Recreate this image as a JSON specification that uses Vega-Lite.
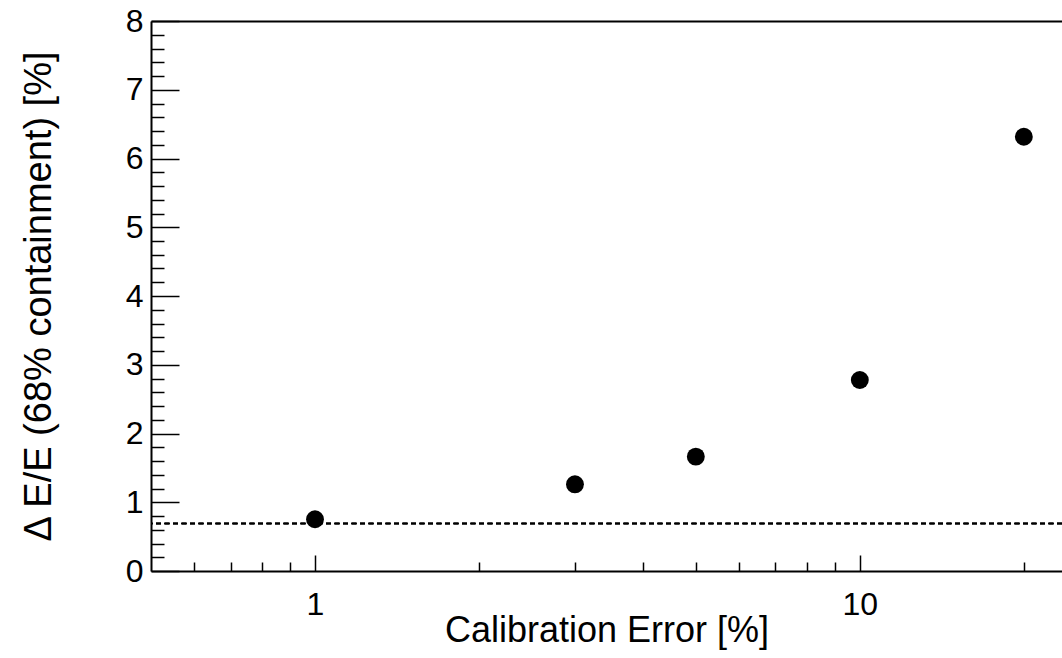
{
  "$schema": "https://vega.github.io/schema/vega-lite/v6.json",
  "width": 911,
  "height": 550,
  "autosize": "none",
  "padding": {"left": 151, "top": 21, "right": 0, "bottom": 87},
  "background": "white",
  "config": {
    "view": {"stroke": null},
    "axis": {
      "grid": false,
      "labelFont": "Liberation Sans",
      "labelFontSize": 32,
      "labelColor": "black",
      "titleFont": "Liberation Sans",
      "titleFontWeight": "normal",
      "titleColor": "black",
      "domainColor": "black",
      "domainWidth": 2,
      "tickColor": "black",
      "tickWidth": 1.5
    }
  },
  "data": {
    "values": [
      {"err": 1, "res": 0.752},
      {"err": 3, "res": 1.261},
      {"err": 5, "res": 1.663},
      {"err": 10, "res": 2.778},
      {"err": 20, "res": 6.317}
    ]
  },
  "resolve": {"axis": {"x": "independent", "y": "independent"}},
  "layer": [
    {
      "mark": {"type": "rule", "color": "black", "strokeWidth": 1.5, "strokeDash": [5, 3.5]},
      "encoding": {
        "y": {"datum": 0.69, "type": "quantitative", "scale": {"domain": [0, 8], "nice": false}, "axis": null}
      }
    },
    {
      "mark": {"type": "circle", "color": "black", "opacity": 1, "size": 320},
      "encoding": {
        "x": {
          "field": "err", "type": "quantitative",
          "scale": {"type": "log", "domain": [0.5, 23.5], "nice": false, "zero": false},
          "axis": {
            "orient": "bottom", "values": [1, 10], "format": "d", "ticks": false,
            "domain": true, "labelPadding": 18, "labelFlush": false,
            "labelFont": "Liberation Sans", "labelFontSize": 32, "labelColor": "black",
            "title": "Calibration Error [%]", "titleFontSize": 36,
            "titleBaseline": "alphabetic", "titleY": 70
          }
        },
        "y": {
          "field": "res", "type": "quantitative",
          "scale": {"domain": [0, 8], "nice": false},
          "axis": {
            "orient": "left", "values": [0, 1, 2, 3, 4, 5, 6, 7, 8], "format": "d", "ticks": false,
            "domain": true, "labelPadding": 8,
            "labelFont": "Liberation Sans", "labelFontSize": 32, "labelColor": "black",
            "title": "Δ E/E (68% containment) [%]", "titleFontSize": 38,
            "titleBaseline": "alphabetic", "titleX": -101, "titleAngle": -90
          }
        }
      }
    },
    {
      "mark": {"type": "circle", "opacity": 0},
      "encoding": {
        "x": {
          "field": "err", "type": "quantitative",
          "scale": {"type": "log", "domain": [0.5, 23.5], "nice": false, "zero": false},
          "axis": {"orient": "bottom", "values": [1, 10], "labels": false, "domain": false, "tickSize": -16, "title": null}
        },
        "y": {
          "field": "res", "type": "quantitative",
          "scale": {"domain": [0, 8], "nice": false},
          "axis": {"orient": "left", "values": [0, 1, 2, 3, 4, 5, 6, 7, 8], "labels": false, "domain": false, "tickSize": -28, "title": null}
        }
      }
    },
    {
      "mark": {"type": "circle", "opacity": 0},
      "encoding": {
        "x": {
          "field": "err", "type": "quantitative",
          "scale": {"type": "log", "domain": [0.5, 23.5], "nice": false, "zero": false},
          "axis": {"orient": "bottom", "values": [0.6, 0.7, 0.8, 0.9, 2, 3, 4, 5, 6, 7, 8, 9, 20], "labels": false, "domain": false, "tickSize": -9, "title": null}
        },
        "y": {
          "field": "res", "type": "quantitative",
          "scale": {"domain": [0, 8], "nice": false},
          "axis": {"orient": "left", "values": [0.2, 0.4, 0.6, 0.8, 1.2, 1.4, 1.6, 1.8, 2.2, 2.4, 2.6, 2.8, 3.2, 3.4, 3.6, 3.8, 4.2, 4.4, 4.6, 4.8, 5.2, 5.4, 5.6, 5.8, 6.2, 6.4, 6.6, 6.8, 7.2, 7.4, 7.6, 7.8], "labels": false, "domain": false, "tickSize": -13, "title": null}
        }
      }
    },
    {
      "mark": {"type": "circle", "opacity": 0},
      "encoding": {
        "x": {
          "field": "err", "type": "quantitative",
          "scale": {"type": "log", "domain": [0.5, 23.5], "nice": false, "zero": false},
          "axis": {"orient": "top", "labels": false, "ticks": false, "domain": true, "title": null}
        }
      }
    }
  ]
}
